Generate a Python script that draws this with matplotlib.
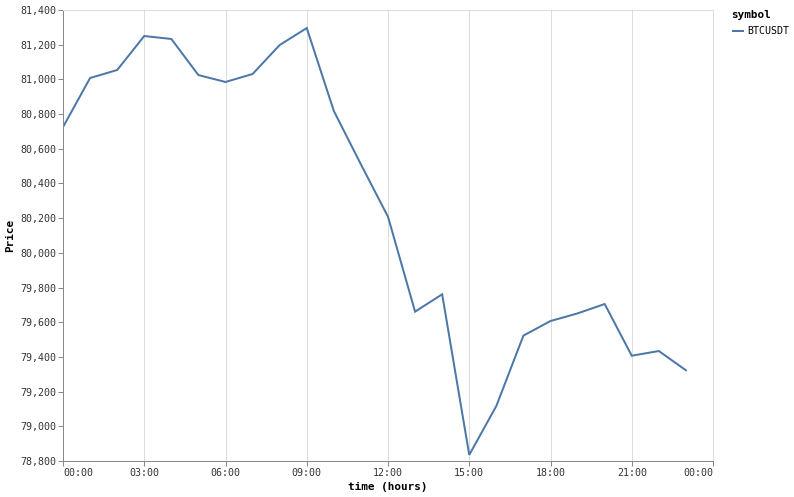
import matplotlib
matplotlib.use("Agg")
import matplotlib.pyplot as plt
from matplotlib.lines import Line2D

hours = list(range(24))
price = [80725, 81008, 81054, 81250, 81233, 81025, 80985, 81031, 81198, 81296,
         80818, 80510, 80208, 79661, 79761, 78835, 79117, 79523, 79607, 79651,
         79705, 79407, 79434, 79323]
symbol = "BTCUSDT"
x_ticks = [0, 3, 6, 9, 12, 15, 18, 21, 24]
x_tick_labels = ["00:00", "03:00", "06:00", "09:00", "12:00", "15:00", "18:00", "21:00", "00:00"]
y_ticks = list(range(78800, 81401, 200))

W, H = 794, 497
fig = plt.figure(figsize=(W / 100, H / 100), dpi=100)
ax = fig.add_axes([63 / W, 1 - 461 / H, (713 - 63) / W, (461 - 10) / H])

mono = "DejaVu Sans Mono"
px = 72 / 100  # points per pixel
ax.plot(hours, price, color="#4c78a8", lw=2 * px, solid_joinstyle="miter")
ax.set_xlim(0, 24)
ax.set_ylim(78800, 81400)

ax.set_xticks(x_ticks)
ax.set_xticklabels(x_tick_labels, fontfamily=mono, fontsize=10 * px, color="#333")
labels = ax.get_xticklabels()
labels[0].set_horizontalalignment("left")
labels[-1].set_horizontalalignment("right")
ax.set_yticks(y_ticks)
ax.set_yticklabels([f"{v:,}" for v in y_ticks], fontfamily=mono, fontsize=10 * px, color="#333")

ax.grid(True, axis="x", color="#dddddd", lw=1 * px)
ax.set_axisbelow(True)
for s in ["top", "right"]:
    ax.spines[s].set_color("#dddddd")
    ax.spines[s].set_linewidth(1 * px)
for s in ["left", "bottom"]:
    ax.spines[s].set_color("#888888")
    ax.spines[s].set_linewidth(1 * px)
ax.tick_params(axis="both", length=5 * px, width=1 * px, color="#888888", pad=2 * px)

ax.set_xlabel("time (hours)", fontfamily=mono, fontsize=11 * px, fontweight="bold", labelpad=2.8)
ax.set_ylabel("Price", fontfamily=mono, fontsize=11 * px, fontweight="bold", labelpad=3.6)

fig.text(731 / W, 1 - 15 / H, "symbol", fontfamily=mono, fontsize=11 * px, fontweight="bold",
         va="center", ha="left")
fig.add_artist(Line2D([733 / W, 743 / W], [1 - 31 / H, 1 - 31 / H], color="#4c78a8", lw=2 * px))
fig.text(747 / W, 1 - 31 / H, symbol, fontfamily=mono, fontsize=10 * px, va="center", ha="left",
         color="#000")

fig.savefig("out.png", dpi=100, facecolor="white")
